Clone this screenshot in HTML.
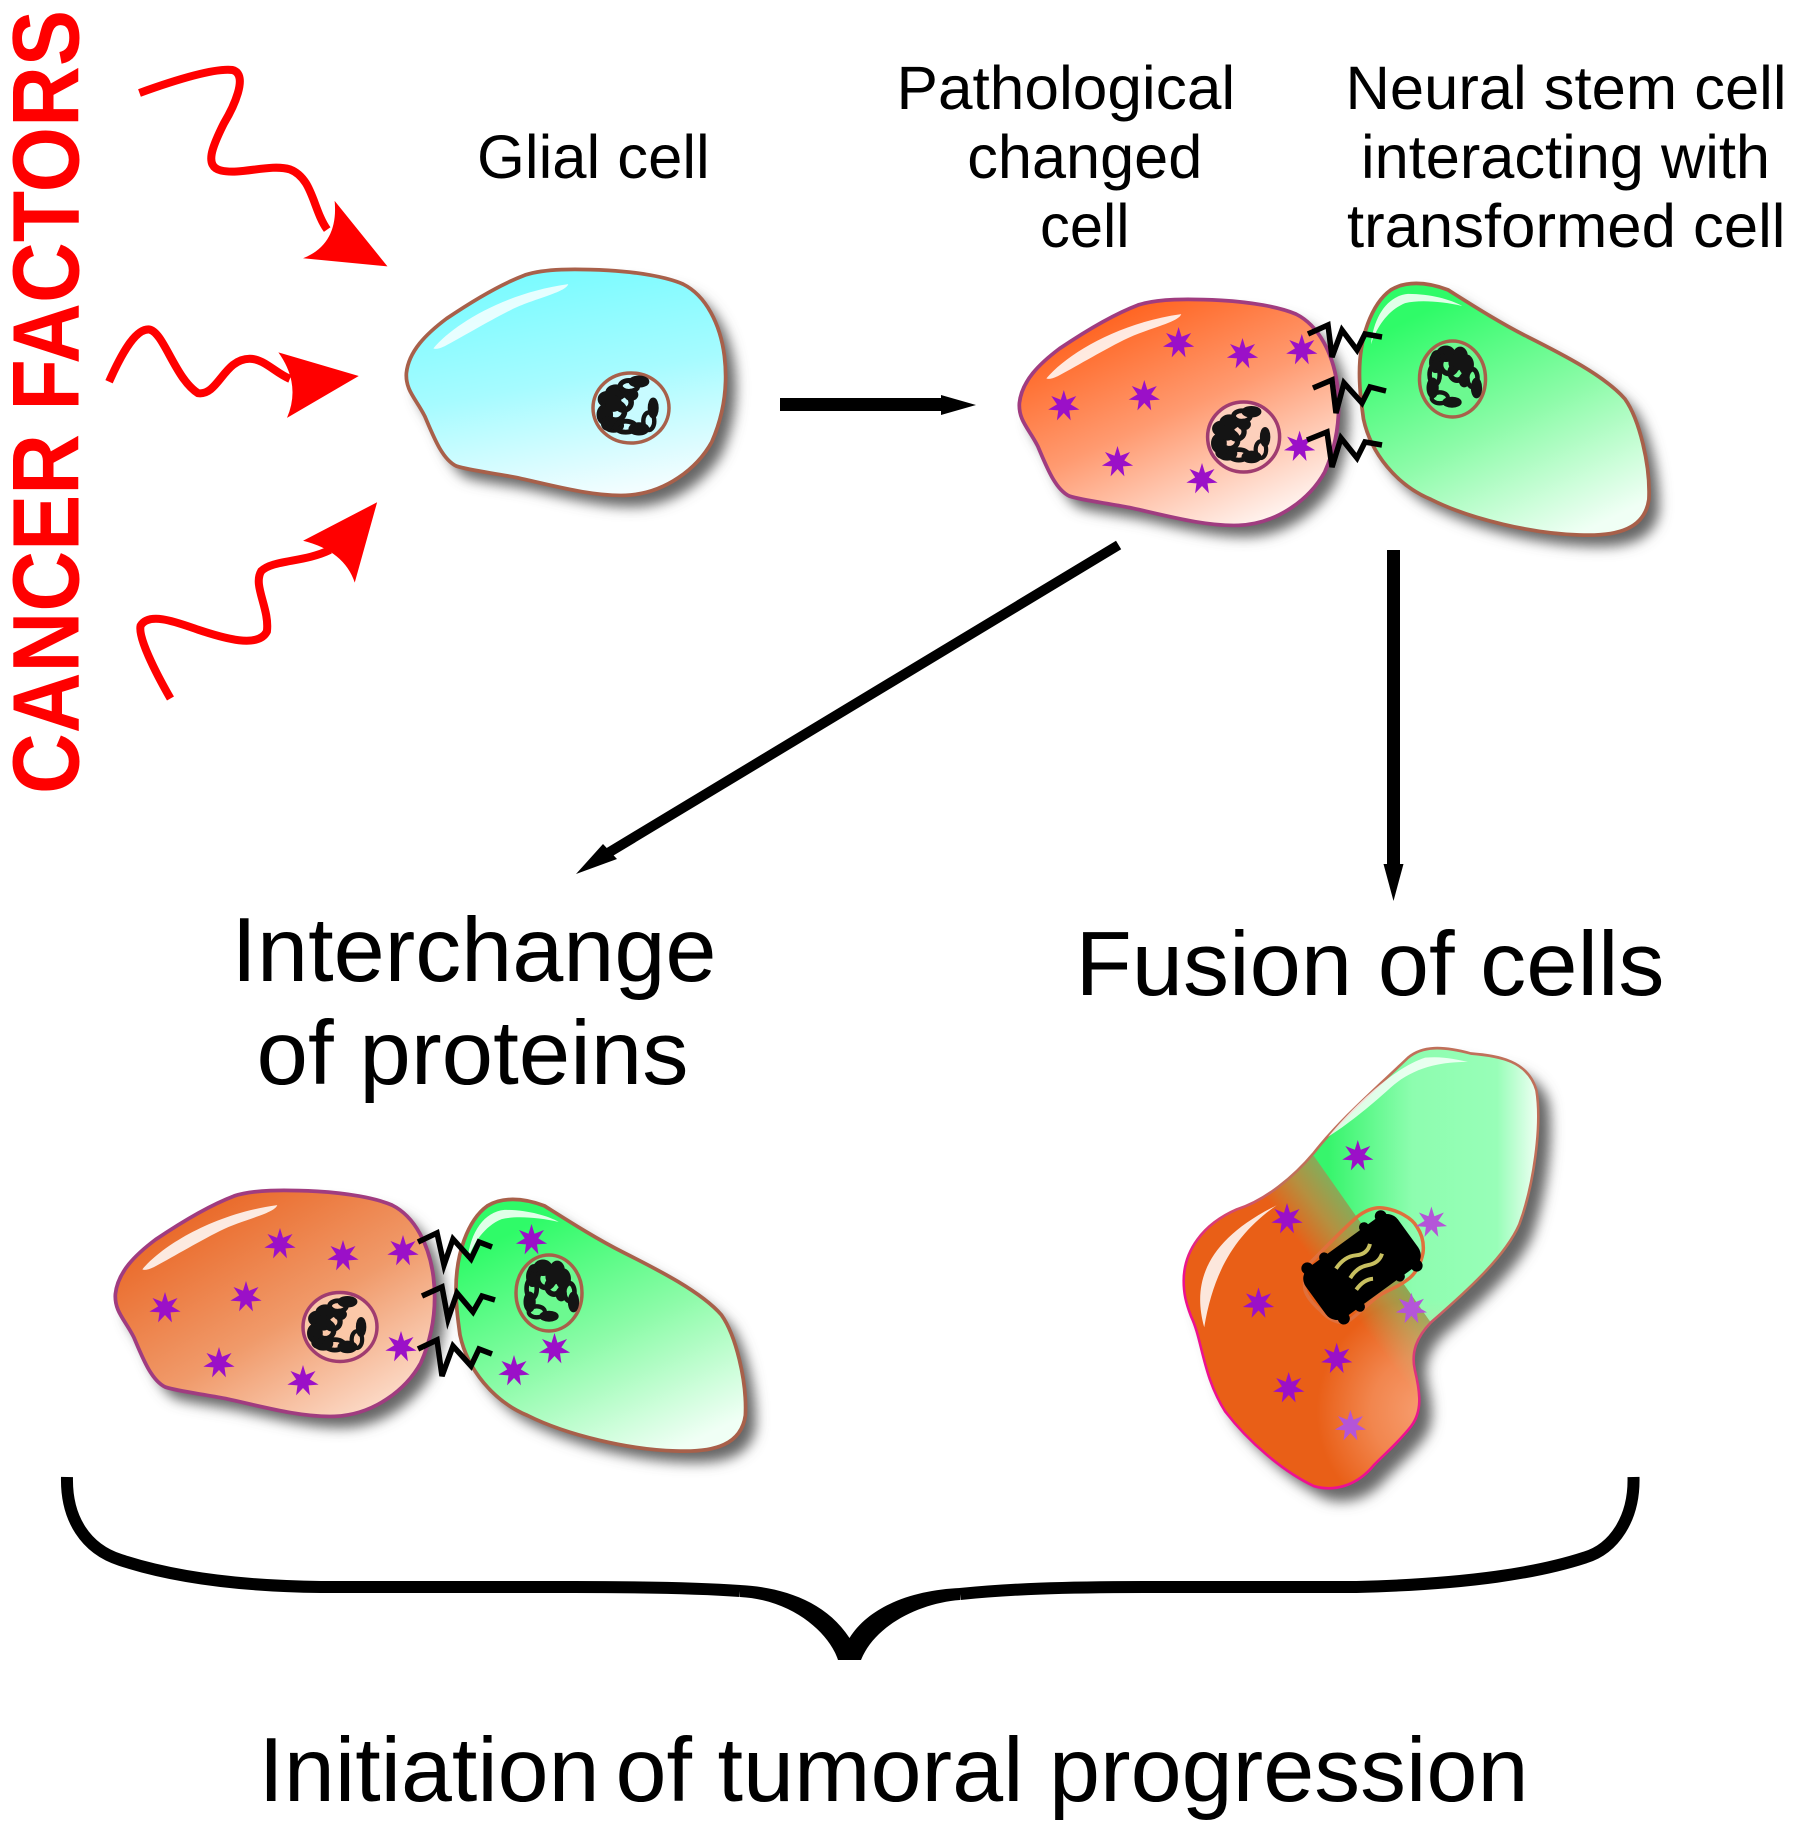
<!DOCTYPE html>
<html>
<head>
<meta charset="utf-8">
<title>Initiation of tumoral progression</title>
<style>
html,body{margin:0;padding:0;background:#fff}
svg{display:block}
text{font-family:"Liberation Sans",Arial,sans-serif;fill:#000}
</style>
</head>
<body>
<svg xmlns="http://www.w3.org/2000/svg" width="1795" height="1833" viewBox="0 0 1795 1833">
<defs>
<filter id="b" x="-20%" y="-20%" width="140%" height="140%"><feGaussianBlur stdDeviation="11"/></filter>
<linearGradient id="gCyan" x1=".35" y1="0" x2=".6" y2="1"><stop offset="0" stop-color="#78fbff"/><stop offset=".5" stop-color="#a6fbff"/><stop offset="1" stop-color="#f2fdff"/></linearGradient>
<linearGradient id="gOr" x1=".15" y1=".05" x2=".75" y2="1"><stop offset="0" stop-color="#ff5a12"/><stop offset=".5" stop-color="#ff9a70"/><stop offset="1" stop-color="#fff4f0"/></linearGradient>
<linearGradient id="gOr2" x1=".1" y1=".1" x2=".85" y2="1"><stop offset="0" stop-color="#e9621f"/><stop offset=".55" stop-color="#f09a6a"/><stop offset="1" stop-color="#fde0d0"/></linearGradient>
<linearGradient id="gGr" x1=".25" y1=".1" x2=".75" y2="1"><stop offset="0" stop-color="#2ffb68"/><stop offset=".5" stop-color="#8cfba8"/><stop offset="1" stop-color="#f0fff5"/></linearGradient>
<linearGradient id="fGreen" gradientUnits="userSpaceOnUse" x1="750" y1="0" x2="1120" y2="0"><stop offset="0" stop-color="#37f56c"/><stop offset=".4" stop-color="#8dfdaf"/><stop offset=".8" stop-color="#98feb8"/><stop offset="1" stop-color="#f2fff6"/></linearGradient>
<linearGradient id="fOrange" gradientUnits="userSpaceOnUse" x1="835" y1="570" x2="749" y2="638"><stop offset="0" stop-color="#84ad5a"/><stop offset=".45" stop-color="#b59040"/><stop offset="1" stop-color="#e95f17"/></linearGradient>
<radialGradient id="fSalmon" gradientUnits="userSpaceOnUse" cx="920" cy="860" r="190"><stop offset="0" stop-color="#ffc0a0" stop-opacity=".65"/><stop offset=".5" stop-color="#ffc0a0" stop-opacity=".4"/><stop offset="1" stop-color="#ffc0a0" stop-opacity="0"/></radialGradient>
<linearGradient id="fStroke" gradientUnits="userSpaceOnUse" x1="640" y1="720" x2="760" y2="530"><stop offset="0" stop-color="#ee1090"/><stop offset="1" stop-color="#c0705a"/></linearGradient>
<path id="cell" d="M708,650 C712,612 742,582 778,555 C815,530 865,498 915,479 C950,468 1000,468 1060,471 C1110,474 1160,482 1190,495 C1230,515 1255,565 1262,620 C1268,670 1262,720 1240,770 C1215,815 1160,860 1090,863 C1030,865 960,845 900,832 C860,824 820,820 795,812 C770,800 755,760 740,725 C725,695 706,680 708,650 Z"/>
<path id="hl" d="M755,607 C790,565 880,510 990,495 C985,510 930,520 890,540 C850,560 800,590 775,603 Q760,610 755,607Z"/>
<path id="gcell" d="M805,650 C805,590 825,530 860,505 C885,490 920,490 960,505 C1000,530 1050,562 1100,587 C1160,617 1235,655 1270,695 C1295,730 1315,810 1312,870 C1305,920 1260,935 1190,932 C1110,930 1000,905 930,870 C870,845 825,790 812,730 C808,700 805,680 805,650 Z"/>
<path id="ghl" d="M825,600 C830,550 855,515 890,512 C930,512 965,522 985,533 C950,525 910,522 885,528 C855,540 835,570 825,600 Z"/>
<path id="fcell" d="M497,640 C497,590 530,545 590,520 C640,505 690,465 725,425 C770,370 830,320 890,265 C915,245 950,245 1000,258 C1050,262 1100,270 1115,320 C1125,380 1110,480 1085,545 C1060,600 990,660 930,710 C905,735 895,760 902,790 C912,830 915,860 895,885 C870,915 850,930 830,950 C800,985 760,995 725,985 C670,960 610,910 570,860 C530,800 530,740 510,700 C500,675 497,660 497,640 Z"/>
<clipPath id="fclip"><use href="#fcell"/></clipPath>
<polygon id="star" points="0,-16 3,-6.3 12.5,-10 6.8,-1.6 15.6,3.6 5.5,4.4 6.9,14.4 0,7 -6.9,14.4 -5.5,4.4 -15.6,3.6 -6.8,-1.6 -12.5,-10 -3,-6.3"/>
<g id="chrom" fill="#141414" stroke="#141414" stroke-width="3">
<ellipse cx="-20" cy="-8" rx="7" ry="6"/><ellipse cx="-12" cy="-14" rx="8" ry="6"/><ellipse cx="0" cy="-20" rx="8" ry="5" fill="none" stroke-width="4.5"/>
<ellipse cx="9" cy="-24" rx="8" ry="4"/><ellipse cx="-22" cy="6" rx="6" ry="8"/><ellipse cx="-12" cy="3" rx="8" ry="8" fill="none" stroke-width="5"/>
<ellipse cx="-14" cy="16" rx="8" ry="5"/><ellipse cx="-3" cy="17" rx="9" ry="5" fill="none" stroke-width="4.5"/><ellipse cx="9" cy="19" rx="8" ry="4.5"/>
<ellipse cx="18" cy="12" rx="5" ry="8" fill="none" stroke-width="4"/><ellipse cx="22" cy="0" rx="3.5" ry="8"/><ellipse cx="-5" cy="-5" rx="7" ry="7" fill="none" stroke-width="5"/>
<ellipse cx="-14" cy="-4" rx="6" ry="6"/><ellipse cx="-20" cy="14" rx="4" ry="5"/><ellipse cx="2" cy="-12" rx="5" ry="4"/>
</g>
</defs>

<rect width="1795" height="1833" fill="#fff"/>

<!-- Side label -->
<text transform="translate(78.5,794) rotate(-90)" font-size="95" font-weight="700" style="fill:#ff0000" textLength="784" lengthAdjust="spacingAndGlyphs">CANCER FACTORS</text>

<!-- Red wavy arrows -->
<g transform="scale(.574)">
<g fill="none" stroke="#ff0000" stroke-width="14">
<path d="M243,162 C290,145 370,118 405,122 C435,130 405,190 390,215 C370,255 355,290 385,297 C420,305 470,285 505,295 C545,310 545,365 570,400"/>
<path d="M190,665 C210,620 235,572 260,574 C285,578 305,660 345,685 C380,690 390,625 435,625 C460,625 480,650 505,660"/>
<path d="M297,1217 C270,1170 240,1110 245,1090 C260,1065 310,1085 345,1097 C390,1112 450,1130 465,1100 C470,1060 440,1020 455,995 C475,975 530,980 575,958"/>
</g>
<g fill="#ff0000">
<path d="M583,350 L675,464 L528,450 Q590,425 583,350Z"/>
<path d="M485,614 L625,655 L500,728 Q525,670 485,614Z"/>
<path d="M657,875 L618,1015 Q600,960 528,942Z"/>
</g>
</g>

<!-- Glial cell -->
<g transform="scale(.574)">
<use href="#cell" transform="translate(18,20)" fill="#666" filter="url(#b)"/>
<use href="#cell" fill="url(#gCyan)" stroke="#a8604a" stroke-width="6.5"/>
<use href="#hl" fill="#fff" opacity=".8"/>
</g>
<ellipse cx="631" cy="408" rx="38" ry="35" fill="#c8fbff" stroke="#a8604a" stroke-width="3.5"/>
<use href="#chrom" transform="translate(629,408) scale(1.1)"/>

<!-- Pathological pair -->
<g transform="translate(613,30) scale(.574)">
<use href="#cell" transform="translate(18,20)" fill="#666" filter="url(#b)"/>
<use href="#cell" fill="url(#gOr)" stroke="#a03c80" stroke-width="6.5"/>
<use href="#hl" fill="#fff" opacity=".85"/>
</g>
<g transform="translate(900,0) scale(.5708,.574)">
<use href="#gcell" transform="translate(18,20)" fill="#666" filter="url(#b)"/>
<use href="#gcell" fill="url(#gGr)" stroke="#a8604a" stroke-width="6.5"/>
<use href="#ghl" fill="#fff" opacity=".85"/>
</g>
<ellipse cx="1243.6" cy="437" rx="36" ry="35" fill="#fdd0bc" stroke="#a03c70" stroke-width="3.5"/>
<use href="#chrom" transform="translate(1242,437) scale(1.05)"/>
<ellipse cx="1452.5" cy="379" rx="33" ry="38" fill="#6cf990" stroke="#a8604a" stroke-width="3.5"/>
<use href="#chrom" transform="translate(1452,378) rotate(90) scale(1.1,1.02)"/>
<g fill="#9b10c8">
<use href="#star" x="1178.6" y="343"/><use href="#star" x="1242.5" y="354"/><use href="#star" x="1301.8" y="350"/>
<use href="#star" x="1144.3" y="396"/><use href="#star" x="1063.8" y="406"/><use href="#star" x="1117.5" y="462"/>
<use href="#star" x="1202" y="479"/><use href="#star" x="1299.6" y="446.6"/>
</g>
<g fill="none" stroke="#000" stroke-width="5.5">
<polyline points="1308,334 1328,325 1332,357 1342,330 1357,350 1365,334 1382,337"/>
<polyline points="1313,388 1332,380 1336,413 1344,383 1362,403 1370,387 1386,391"/>
<polyline points="1307,440 1327,432 1332,467 1341,438 1357,458 1365,442 1382,445"/>
</g>

<!-- Interchange pair -->
<g transform="translate(-291,921) scale(.574)">
<use href="#cell" transform="translate(18,20)" fill="#666" filter="url(#b)"/>
<use href="#cell" fill="url(#gOr2)" stroke="#a03c80" stroke-width="6.5"/>
<use href="#hl" fill="#fff" opacity=".85"/>
</g>
<g transform="translate(-903.5,916) translate(900,0) scale(.5708,.574)">
<use href="#gcell" transform="translate(18,20)" fill="#666" filter="url(#b)"/>
<use href="#gcell" fill="url(#gGr)" stroke="#a8604a" stroke-width="6.5"/>
<use href="#ghl" fill="#fff" opacity=".85"/>
</g>
<ellipse cx="340" cy="1327" rx="37" ry="34.5" fill="#fbc8a8" stroke="#a03c70" stroke-width="3.5"/>
<use href="#chrom" transform="translate(338,1327) scale(1.05)"/>
<ellipse cx="549" cy="1293" rx="33" ry="38" fill="#6cf990" stroke="#a8604a" stroke-width="3.5"/>
<use href="#chrom" transform="translate(549,1292) rotate(90) scale(1.1,1.02)"/>
<g fill="#9b10c8">
<use href="#star" x="280" y="1244"/><use href="#star" x="343" y="1256"/><use href="#star" x="403" y="1251"/>
<use href="#star" x="246" y="1297"/><use href="#star" x="165" y="1308"/><use href="#star" x="219" y="1363"/>
<use href="#star" x="303" y="1381"/><use href="#star" x="401" y="1347"/>
<use href="#star" x="531.5" y="1240"/><use href="#star" x="554.5" y="1349"/><use href="#star" x="514" y="1371"/>
</g>
<g fill="none" stroke="#000" stroke-width="5.5">
<polyline points="418,1242 437,1233 444,1265 453,1239 471,1259 479,1242 492,1247"/>
<polyline points="422,1296 442,1287 448,1319 457,1293 473,1312 482,1296 495,1300"/>
<polyline points="418,1349 437,1340 442,1376 453,1346 471,1366 479,1349 492,1354"/>
</g>

<!-- Fusion cell -->
<g transform="translate(900,900) scale(.5708,.595)">
<use href="#fcell" transform="translate(22,22)" fill="#666" filter="url(#b)"/>
<use href="#fcell" fill="url(#fGreen)"/>
<g clip-path="url(#fclip)">
<polygon points="725,430 1237,1130 400,1130 400,430" fill="url(#fOrange)"/>
<circle cx="920" cy="860" r="190" fill="url(#fSalmon)"/>
</g>
<use href="#fcell" fill="none" stroke="url(#fStroke)" stroke-width="4.5"/>
<path d="M533,718 C510,640 540,570 660,513 C590,560 550,620 533,718 Z" fill="#fff" opacity=".85"/>
<path d="M750,398 C800,340 870,280 920,265 C950,262 975,268 995,272 C950,272 900,280 860,315 C820,350 780,380 750,398 Z" fill="#fff" opacity=".8"/>
</g>
<path d="M1305,1290 C1303,1275 1308,1264 1313,1260 C1328,1245 1342,1230 1357,1217 C1366,1210 1375,1207 1383,1208 C1398,1210 1412,1218 1417,1227 C1423,1236 1424,1245 1423,1253 C1421,1263 1416,1274 1407,1280 C1398,1287 1390,1289 1380,1295 C1368,1303 1358,1315 1347,1322 C1337,1324 1327,1318 1320,1310 C1312,1303 1307,1297 1305,1290 Z" fill="none" stroke="#e0703c" stroke-width="3.5"/>
<g transform="translate(1362,1267) rotate(-36)">
<rect x="-57" y="-31" width="114" height="62" rx="14" fill="#000"/>
<g fill="#000">
<circle cx="-45" cy="-31" r="6"/><circle cx="-25" cy="-30" r="5"/><circle cx="25" cy="-31" r="5"/><circle cx="45" cy="-30" r="6"/>
<circle cx="-45" cy="31" r="6"/><circle cx="-25" cy="31" r="5"/><circle cx="25" cy="30" r="5"/><circle cx="45" cy="31" r="6"/>
</g>
<g fill="none" stroke="#c8c060" stroke-width="4">
<path d="M-22,-14 Q-8,-19 2,-13 T20,-14"/>
<path d="M-16,2 Q-4,-3 6,2 T24,1"/>
<path d="M-18,15 Q-6,11 2,16"/>
</g>
</g>
<g fill="#9b10c8">
<use href="#star" x="1287" y="1219"/><use href="#star" x="1258.5" y="1303.4"/>
<use href="#star" x="1336.7" y="1358.7"/><use href="#star" x="1288.7" y="1388"/>
<use href="#star" x="1357.8" y="1156"/>
</g>
<g fill="#b455d8">
<use href="#star" x="1431.4" y="1222.5"/><use href="#star" x="1411.4" y="1308.8"/><use href="#star" x="1350.4" y="1426"/>
</g>

<!-- Black arrows -->
<rect x="780" y="398" width="165" height="13" fill="#000"/>
<polygon points="976,405 941,395 941,415" fill="#000"/>
<line x1="1118.6" y1="545" x2="608" y2="853" stroke="#000" stroke-width="10"/>
<polygon points="576,874 603,844 617,859" fill="#000"/>
<rect x="1387" y="550" width="13" height="316" fill="#000"/>
<polygon points="1383.5,864 1403.5,864 1393.5,901" fill="#000"/>

<!-- Brace -->
<g fill="none" stroke="#000" stroke-width="12">
<path d="M67,1477 C66,1519 86,1549 120.5,1560 C166,1575 230,1586 321,1587 L574,1587 C640,1587 700,1588 740,1591"/>
<path d="M1633.5,1477 C1634.6,1519 1613.5,1549 1585,1557.5 C1539,1572.5 1471,1584 1356.6,1587 L1150,1587 C1060,1587 1010,1589 960,1594"/>
</g>
<path d="M740,1585 C780,1587 825,1600 849.5,1638 C870,1605 915,1590 960,1588 L960,1600 C920,1603 875,1625 861,1660 L838,1660 C830,1635 795,1600 740,1597Z" fill="#000"/>

<!-- Labels -->
<text x="477" y="178" font-size="61" textLength="232.7" lengthAdjust="spacingAndGlyphs">Glial cell</text>
<text x="896.5" y="109" font-size="61" textLength="338.7" lengthAdjust="spacingAndGlyphs">Pathological</text>
<text x="967.3" y="178" font-size="61" textLength="235" lengthAdjust="spacingAndGlyphs">changed</text>
<text x="1040" y="247" font-size="61" textLength="89.5" lengthAdjust="spacingAndGlyphs">cell</text>
<text x="1345.5" y="109" font-size="61" textLength="441" lengthAdjust="spacingAndGlyphs">Neural stem cell</text>
<text x="1361" y="178" font-size="61" textLength="409" lengthAdjust="spacingAndGlyphs">interacting with</text>
<text x="1347" y="247" font-size="61" textLength="438.5" lengthAdjust="spacingAndGlyphs">transformed cell</text>
<text x="231.5" y="981" font-size="91" textLength="485" lengthAdjust="spacingAndGlyphs">Interchange</text>
<text x="256.5" y="1084" font-size="91" textLength="432" lengthAdjust="spacingAndGlyphs">of proteins</text>
<text x="1075.5" y="995" font-size="91" textLength="589" lengthAdjust="spacingAndGlyphs">Fusion of cells</text>
<text x="258.5" y="1801" font-size="91" textLength="341" lengthAdjust="spacingAndGlyphs">Initiation</text>
<text x="615.5" y="1801" font-size="91" textLength="913" lengthAdjust="spacingAndGlyphs">of tumoral progression</text>
</svg>
</body>
</html>
